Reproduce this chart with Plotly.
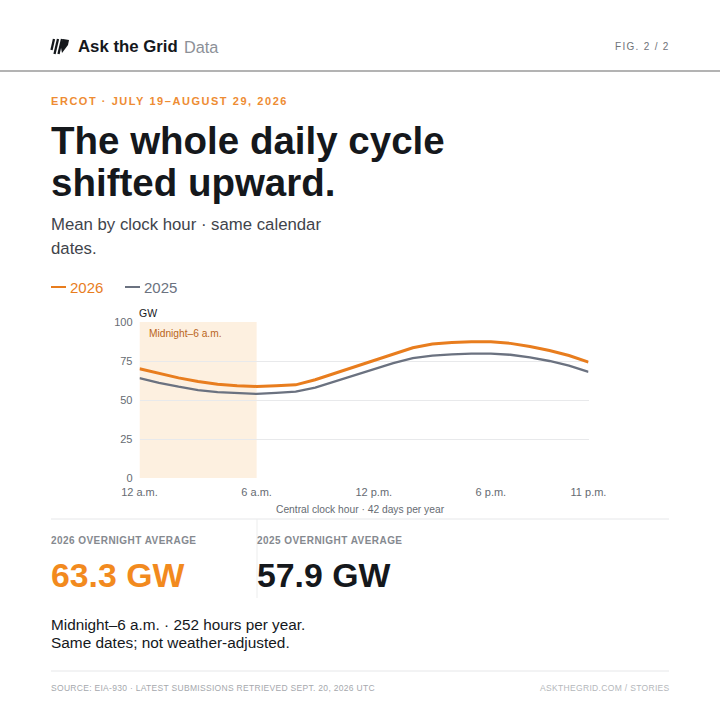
import plotly.graph_objects as go

hours = list(range(24))
load_2026 = [70, 67, 64.2, 61.8, 60.1, 59.1, 58.7, 59.1, 59.7, 63, 67, 71.3,
             75.5, 79.5, 83.5, 85.9, 86.9, 87.4, 87.3, 86.3, 84.3, 81.7, 78.5, 74.3]
load_2025 = [64, 61, 58.5, 56.4, 55, 54.3, 53.9, 54.6, 55.3, 58, 62, 66,
             70, 73.7, 76.8, 78.4, 79.2, 79.7, 79.7, 79, 77.3, 75, 72, 68]
x_ticks = [0, 6, 12, 18, 23]
x_labels = ['12 a.m.', '6 a.m.', '12 p.m.', '6 p.m.', '11 p.m.']
y_ticks = [0, 25, 50, 75, 100]

SIZE = 720
ORANGE = '#e87d1e'
SLATE = '#6b7280'
INK = '#15181c'
FONT = 'Liberation Sans'


# page pixels to paper coordinates
def px(v):
    return v / SIZE


def py(v):
    return 1 - v / SIZE


def label(x, y, text, size, color, bold=False):
    # annotation box adds 2px of padding on the left
    return dict(x=px(x - 2), y=py(y), xref='paper', yref='paper', text=text,
                showarrow=False, xanchor='left', yanchor='middle', align='left',
                font=dict(family=FONT, size=size, color=color,
                          weight=700 if bold else 400))


def rule(x0, y0, x1, y1, color, width=1):
    return dict(type='line', xref='paper', yref='paper', x0=px(x0), y0=py(y0),
                x1=px(x1), y1=py(y1), line=dict(color=color, width=width))


fig = go.Figure()
fig.add_trace(go.Scatter(x=hours, y=load_2025, mode='lines', name='2025',
                         line=dict(color=SLATE, width=2.3)))
fig.add_trace(go.Scatter(x=hours, y=load_2026, mode='lines', name='2026',
                         line=dict(color=ORANGE, width=3)))

texts = [
    label(78, 47, 'Ask the Grid', 16.8, INK, True),
    label(184, 47, 'Data', 16.3, '#8c9097'),
    label(615, 47, 'FIG. 2 / 2', 10, '#6f7378'),
    label(51, 101, 'ERCOT · JULY 19–AUGUST 29, 2026', 11, '#ee8c33', True),
    label(51, 141, 'The whole daily cycle', 38.5, INK, True),
    label(51, 182, 'shifted upward.', 38.5, INK, True),
    label(51, 224, 'Mean by clock hour · same calendar', 16.75, '#3f444b'),
    label(51, 248, 'dates.', 16.75, '#3f444b'),
    label(70, 287, '2026', 15, ORANGE),
    label(144, 287, '2025', 15, SLATE),
    label(139, 313, 'GW', 10.5, INK),
    label(149, 333, 'Midnight–6 a.m.', 10.2, '#b9651b'),
    label(276, 509, 'Central clock hour · 42 days per year', 10.25, '#666b72'),
    label(51, 540, '2026 OVERNIGHT AVERAGE', 10, '#85898f', True),
    label(257, 540, '2025 OVERNIGHT AVERAGE', 10, '#85898f', True),
    label(51, 575, '63.3 GW', 33.8, '#f28a1e', True),
    label(257, 575, '57.9 GW', 33.8, INK, True),
    label(51, 624, 'Midnight–6 a.m. · 252 hours per year.', 15.3, INK),
    label(51, 642, 'Same dates; not weather-adjusted.', 15.4, INK),
    label(51, 688, 'SOURCE: EIA-930 · LATEST SUBMISSIONS RETRIEVED SEPT. 20, 2026 UTC', 8.5, '#a5a8ad'),
    label(540, 688, 'ASKTHEGRID.COM / STORIES', 8.5, '#b4b7bb'),
]

shapes = [
    dict(type='rect', xref='x', yref='y', x0=0, x1=6, y0=0, y1=100, layer='below',
         fillcolor='#fdf0e0', line_width=0),
    rule(0, 71, 720, 71, '#9a9a9a', 1.5),
    rule(51, 287, 66, 287, ORANGE, 2),
    rule(125, 287, 140, 287, SLATE, 2),
    rule(51, 519, 669, 519, '#e6e7e9'),
    rule(257, 519, 257, 598, '#eceded'),
    rule(51, 671, 669, 671, '#e6e7e9'),
]
# logo: slanted bars running into a bolt head
for x_top, x_bot, y_bot in [(54, 51.5, 50), (58, 54.5, 54), (62, 58.5, 54)]:
    shapes.append(rule(x_top, 39, x_bot, y_bot, INK, 2.3))
shapes.append(dict(type='path', xref='paper', yref='paper', line_width=0, fillcolor=INK,
                   path='M %f %f L %f %f L %f %f L %f %f L %f %f Z' % (
                       px(63), py(39), px(69), py(40), px(68), py(45),
                       px(62), py(53), px(60.5), py(45))))

fig.update_layout(
    template='none',
    width=SIZE, height=SIZE,
    margin=dict(l=0, r=0, t=0, b=0, pad=0, autoexpand=False),
    paper_bgcolor='white', plot_bgcolor='white',
    showlegend=False,
    font=dict(family=FONT),
    annotations=texts,
    shapes=shapes,
    xaxis=dict(domain=[px(139.5), px(588.5)], range=[0, 23], tickvals=x_ticks, ticktext=x_labels,
               showgrid=False, zeroline=False, showline=False, ticks='', automargin=False,
               ticklabelstandoff=6,
               tickfont=dict(size=11, color='#666b72'), tickangle=0),
    yaxis=dict(domain=[py(478), py(322)], range=[0, 100], tickvals=y_ticks,
               gridcolor='#e8e9eb', gridwidth=1, zeroline=False, showline=False, ticks='',
               automargin=False, ticklabelstandoff=6, tickfont=dict(size=11, color='#666b72')),
)

# letter spacing on the caps labels, and no page margin
spacing = """
document.body.style.margin = '0';
var caps = {'ERCOT': '1.55px', 'FIG.': '1.3px', '2026 OVER': '0.45px', '2025 OVER': '0.45px',
            'SOURCE': '0.3px', 'ASKTHE': '0.33px'};
document.querySelectorAll('.annotation-text').forEach(function (t) {
  Object.keys(caps).forEach(function (k) {
    if (t.textContent.indexOf(k) === 0) t.style.letterSpacing = caps[k];
  });
});
"""
fig.write_html("out.html", post_script=spacing, config=dict(displayModeBar=False))
